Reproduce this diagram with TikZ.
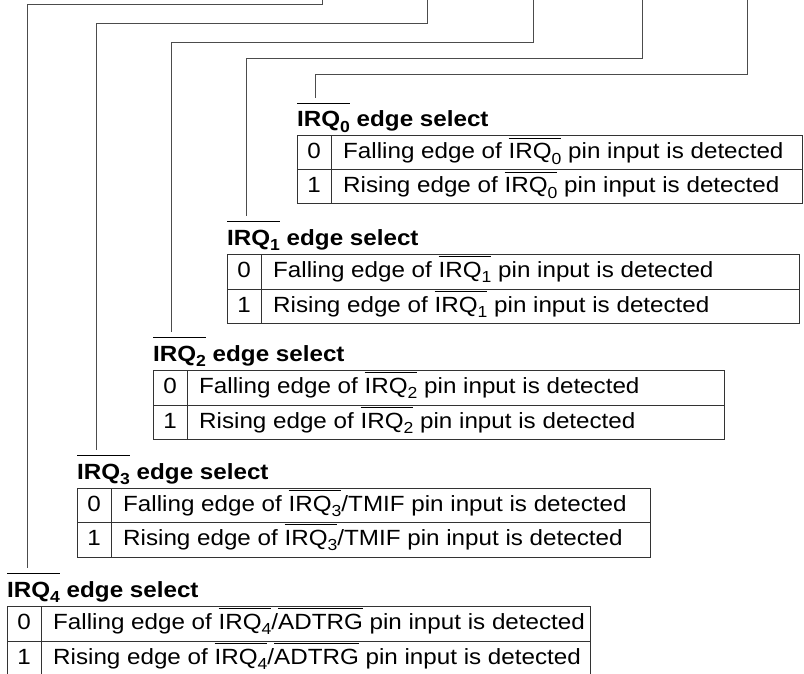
\documentclass[tikz,border=0pt]{standalone}
\usepackage{fontspec}
\setmainfont{Liberation Sans}[FakeStretch=1.1]

\newcommand\sz{\fontsize{22pt}{26pt}\selectfont}
\newcommand\ovl[2][0.9em]{\leavevmode\setbox0\hbox{#2}\rlap{\raisebox{#1}{\rule{\wd0}{0.9pt}}}\box0\relax}
\newcommand\lowsub[1]{\raisebox{-0.27em}{\fontsize{16pt}{16pt}\selectfont #1}}
\newcommand\irq[2][0.9em]{\ovl[#1]{IRQ\lowsub{#2}}}

\tikzset{
  lead/.style={line width=1pt, draw=black!70},
  frame/.style={line width=1pt, draw=black!80},
  head/.style={anchor=base west, inner sep=0pt, font=\sz\bfseries},
  cell/.style={anchor=base west, inner sep=0pt, font=\sz},
  num/.style={anchor=base, inner sep=0pt, font=\sz}
}

\begin{document}
\begin{tikzpicture}[x=1pt, y=-1pt]
		\useasboundingbox (0,0) rectangle (804,674);

		% IRQ0
		\draw[frame] (297,136) rectangle (802,204) (297,170) -- (802,170) (331,136) -- (331,204);
		\node[num] (n00) at (314,159) {0};
		\node[cell] (r00) at (343,159) {Falling edge of \irq0 pin input is detected};
		\node[num] (n01) at (314,193) {1};
		\node[cell] (r01) at (343,193) {Rising edge of \irq0 pin input is detected};
		\node[head] (h0) at (297,127) {\irq[1.03em]0 edge select};
		\coordinate (p0) at (747,0); \coordinate (b0) at (315,75);
		\draw[lead, shorten >=5pt] (p0) |- (b0) -- (b0 |- h0.north);

		% IRQ1
		\draw[frame] (227,254) rectangle (799,323) (227,289) -- (799,289) (261,254) -- (261,323);
		\node[num] (n10) at (244,277) {0};
		\node[cell] (r10) at (273,277) {Falling edge of \irq1 pin input is detected};
		\node[num] (n11) at (244,312) {1};
		\node[cell] (r11) at (273,312) {Rising edge of \irq1 pin input is detected};
		\node[head] (h1) at (227,245) {\irq[1.03em]1 edge select};
		\coordinate (p1) at (642,0); \coordinate (b1) at (246,59);
		\draw[lead, shorten >=5pt] (p1) |- (b1) -- (b1 |- h1.north);

		% IRQ2
		\draw[frame] (153,370) rectangle (724,439) (153,405) -- (724,405) (187,370) -- (187,439);
		\node[num] (n20) at (170,393) {0};
		\node[cell] (r20) at (199,393) {Falling edge of \irq2 pin input is detected};
		\node[num] (n21) at (170,428) {1};
		\node[cell] (r21) at (199,428) {Rising edge of \irq2 pin input is detected};
		\node[head] (h2) at (153,361) {\irq[1.03em]2 edge select};
		\coordinate (p2) at (533,0); \coordinate (b2) at (171,43);
		\draw[lead, shorten >=5pt] (p2) |- (b2) -- (b2 |- h2.north);

		% IRQ3
		\draw[frame] (77,488) rectangle (650,557) (77,522) -- (650,522) (111,488) -- (111,557);
		\node[num] (n30) at (94,511) {0};
		\node[cell] (r30) at (123,511) {Falling edge of \irq3/TMIF pin input is detected};
		\node[num] (n31) at (94,545) {1};
		\node[cell] (r31) at (123,545) {Rising edge of \irq3/TMIF pin input is detected};
		\node[head] (h3) at (77,479) {\irq[1.03em]3 edge select};
		\coordinate (p3) at (427,0); \coordinate (b3) at (96,24);
		\draw[lead, shorten >=5pt] (p3) |- (b3) -- (b3 |- h3.north);

		% IRQ4
		\draw[frame] (7,606) rectangle (590,676) (7,641) -- (590,641) (41,606) -- (41,676);
		\node[num] (n40) at (24,629) {0};
		\node[cell] (r40) at (53,629) {Falling edge of \irq4/\ovl{ADTRG} pin input is detected};
		\node[num] (n41) at (24,664) {1};
		\node[cell] (r41) at (53,664) {Rising edge of \irq4/\ovl{ADTRG} pin input is detected};
		\node[head] (h4) at (7,597) {\irq[1.03em]4 edge select};
		\coordinate (p4) at (322,0); \coordinate (b4) at (27,5);
		\draw[lead, shorten >=5pt] (p4) |- (b4) -- (b4 |- h4.north);
	\end{tikzpicture}
\end{document}
